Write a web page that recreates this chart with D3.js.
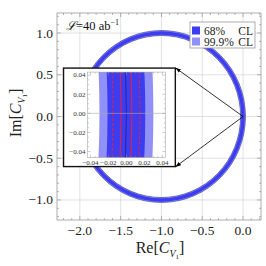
<html>
<head>
<script src="https://cdn.jsdelivr.net/npm/d3@7"></script>
<style>
  body { margin: 0; background: #fff; }
  svg text { font-family: "Liberation Serif", "DejaVu Serif", serif; }
</style>
</head>
<body>
<script>
// circle |1 + C| = 1  ->  centre (-1, 0), radius 1
var center = [-1, 0];
var radius = 1;
var bandLabels = ["68%", "99.9%"];
var bandHalfWidth = [0.021, 0.030];
var bandColors = ["#3c3cf0", "#9090f6"];
var redSolid = [-0.006, 0.006];
var redDashed = [-0.015, 0.015];
var xTicks = [-2.0, -1.5, -1.0, -0.5, 0.0];
var yTicks = [-1.0, -0.5, 0.0, 0.5, 1.0];
var insetTicks = [-0.04, -0.02, 0.00, 0.02, 0.04];
// inset placement in main data coords
var insetBox = { x0: -2.2, x1: -0.83, y0: -0.6, y1: 0.58 };

var W = 266, H = 266;
var svg = d3.select("body").append("svg").attr("width", W).attr("height", H)
  .style("font-family", "Liberation Serif");

var x = d3.scaleLinear().domain([-2.28, 0.22]).range([57, 261]);
var y = d3.scaleLinear().domain([-1.24, 1.24]).range([220, 13]);

function fmt(v, d) {
  var s = Math.abs(v).toFixed(d);
  return (v < -1e-9 ? "\u2212" : "") + s;
}

function ell(xs, ys, r) {
  var cx = xs(center[0]), cy = ys(center[1]);
  var rx = Math.abs(xs(center[0] + r) - cx), ry = Math.abs(ys(center[1] + r) - cy);
  return "M" + (cx + rx) + "," + cy +
    "A" + rx + "," + ry + " 0 1 0 " + (cx - rx) + "," + cy +
    "A" + rx + "," + ry + " 0 1 0 " + (cx + rx) + "," + cy + "Z";
}

var defs = svg.append("defs");
defs.append("clipPath").attr("id", "mainclip").append("rect")
  .attr("x", 57).attr("y", 13).attr("width", 204).attr("height", 207);
defs.append("marker").attr("id", "arr").attr("viewBox", "0 0 10 10")
  .attr("refX", 9).attr("refY", 5).attr("markerWidth", 7).attr("markerHeight", 7)
  .attr("orient", "auto")
  .append("path").attr("d", "M0,1.5 L10,5 L0,8.5 Z").attr("fill", "#000");

// grid
var g = svg.append("g");
g.selectAll(".gx").data(xTicks).enter().append("line")
  .attr("x1", d => x(d)).attr("x2", d => x(d)).attr("y1", 13).attr("y2", 220)
  .attr("stroke", "#d4d4d4").attr("stroke-width", 0.7);
g.selectAll(".gy").data(yTicks).enter().append("line")
  .attr("y1", d => y(d)).attr("y2", d => y(d)).attr("x1", 57).attr("x2", 261)
  .attr("stroke", "#d4d4d4").attr("stroke-width", 0.7);

// ring
var ring = svg.append("g").attr("clip-path", "url(#mainclip)");
[1, 0].forEach(function (i) {
  ring.append("path")
    .attr("d", ell(x, y, radius + bandHalfWidth[i]) + ell(x, y, radius - bandHalfWidth[i]))
    .attr("fill-rule", "evenodd")
    .attr("fill", bandColors[i])
    .attr("stroke", i == 1 ? "#2a2a90" : "none").attr("stroke-width", 0.6);
});

// frame + ticks
svg.append("rect").attr("x", 57).attr("y", 13).attr("width", 204).attr("height", 207)
  .attr("fill", "none").attr("stroke", "#999").attr("stroke-width", 0.8);
var minorX = d3.range(-22, 3).map(d => d / 10);
var minorY = d3.range(-12, 13).map(d => d / 10);
function isMajor(v) { return Math.abs(v * 2 - Math.round(v * 2)) < 1e-6; }
var tk = svg.append("g").attr("stroke", "#888").attr("stroke-width", 0.6);
minorX.forEach(function (v) {
  var L = isMajor(v) ? 4 : 2;
  tk.append("line").attr("x1", x(v)).attr("x2", x(v)).attr("y1", 220).attr("y2", 220 - L);
  tk.append("line").attr("x1", x(v)).attr("x2", x(v)).attr("y1", 13).attr("y2", 13 + L);
});
minorY.forEach(function (v) {
  var L = isMajor(v) ? 4 : 2;
  tk.append("line").attr("y1", y(v)).attr("y2", y(v)).attr("x1", 57).attr("x2", 57 + L);
  tk.append("line").attr("y1", y(v)).attr("y2", y(v)).attr("x1", 261).attr("x2", 261 - L);
});

svg.selectAll(".xl").data(xTicks).enter().append("text")
  .attr("x", d => x(d)).attr("y", 235).attr("text-anchor", "middle")
  .attr("font-size", 13.5).attr("fill", "#222").text(d => fmt(d, 1));
svg.selectAll(".yl").data(yTicks).enter().append("text")
  .attr("x", 53).attr("y", d => y(d) + 4.5).attr("text-anchor", "end")
  .attr("font-size", 13.5).attr("fill", "#222").text(d => fmt(d, 1));

// axis labels
var xl = svg.append("text").attr("x", 160).attr("y", 253).attr("text-anchor", "middle")
  .attr("font-size", 16).attr("fill", "#222");
xl.append("tspan").text("Re[");
xl.append("tspan").attr("font-style", "italic").text("C");
xl.append("tspan").attr("font-style", "italic").attr("font-size", 10).attr("dy", 4).text("V");
xl.append("tspan").attr("font-size", 7).attr("dy", 2).text("1");
xl.append("tspan").attr("dy", -6).text("]");

var yl = svg.append("text").attr("transform", "translate(21,113) rotate(-90)")
  .attr("text-anchor", "middle").attr("font-size", 16).attr("fill", "#222");
yl.append("tspan").text("Im[");
yl.append("tspan").attr("font-style", "italic").text("C");
yl.append("tspan").attr("font-style", "italic").attr("font-size", 10).attr("dy", 4).text("V");
yl.append("tspan").attr("font-size", 7).attr("dy", 2).text("1");
yl.append("tspan").attr("dy", -6).text("]");

// luminosity label
var lum = svg.append("text").attr("x", 66).attr("y", 30).attr("font-size", 12.5).attr("fill", "#111");
lum.append("tspan").attr("font-style", "italic").text("\u2112");
lum.append("tspan").text("=40 ab");
lum.append("tspan").attr("font-size", 8).attr("dy", -5).text("\u22121");

// legend
var lg = svg.append("g");
lg.append("rect").attr("x", 190).attr("y", 22).attr("width", 65).attr("height", 26)
  .attr("fill", "#fff").attr("stroke", "#999").attr("stroke-width", 0.8);
bandLabels.forEach(function (lab, i) {
  var yy = 30.5 + i * 11;
  lg.append("rect").attr("x", 192).attr("y", yy - 4).attr("width", 8).attr("height", 8)
    .attr("fill", bandColors[i]);
  lg.append("text").attr("x", 204).attr("y", yy + 4).attr("font-size", 11.5).attr("fill", "#222").text(lab);
  lg.append("text").attr("x", 253).attr("y", yy + 4).attr("text-anchor", "end")
    .attr("font-size", 11.5).attr("fill", "#222").text("CL");
});

// inset
var bx0 = x(insetBox.x0), bx1 = x(insetBox.x1), by0 = y(insetBox.y1), by1 = y(insetBox.y0);
var ix = d3.scaleLinear().domain([-0.0433, 0.0433]).range([bx0 + 24, bx1 - 10]);
var iy = d3.scaleLinear().domain([-0.0463, 0.0432]).range([by1 - 9, by0 + 4]);

// arrows from origin
[by0, by1].forEach(function (yy) {
  svg.append("line").attr("x1", x(0)).attr("y1", y(0)).attr("x2", bx1 + 0.5).attr("y2", yy)
    .attr("stroke", "#000").attr("stroke-width", 0.8).attr("marker-end", "url(#arr)");
});

svg.append("rect").attr("x", bx0).attr("y", by0).attr("width", bx1 - bx0).attr("height", by1 - by0)
  .attr("fill", "#fff").attr("stroke", "#111").attr("stroke-width", 1.4);

defs.append("clipPath").attr("id", "insclip").append("rect")
  .attr("x", ix.range()[0]).attr("y", iy.range()[1])
  .attr("width", ix.range()[1] - ix.range()[0]).attr("height", iy.range()[0] - iy.range()[1]);

var ins = svg.append("g").attr("clip-path", "url(#insclip)");
[1, 0].forEach(function (i) {
  ins.append("path")
    .attr("d", ell(ix, iy, radius + bandHalfWidth[i]) + ell(ix, iy, radius - bandHalfWidth[i]))
    .attr("fill-rule", "evenodd").attr("fill", bandColors[i]);
});
redDashed.forEach(function (o) {
  ins.append("path").attr("d", ell(ix, iy, radius + o)).attr("fill", "none")
    .attr("stroke", "#e8203c").attr("stroke-width", 1.1).attr("stroke-dasharray", "3,2");
});
redSolid.forEach(function (o) {
  ins.append("path").attr("d", ell(ix, iy, radius + o)).attr("fill", "none")
    .attr("stroke", "#e8203c").attr("stroke-width", 1.1);
});
ins.append("path").attr("d", ell(ix, iy, radius)).attr("fill", "none")
  .attr("stroke", "#22228a").attr("stroke-width", 0.8);
ins.append("line").attr("x1", ix.range()[0]).attr("x2", ix.range()[1])
  .attr("y1", iy(0)).attr("y2", iy(0)).attr("stroke", "#aaa").attr("stroke-width", 0.6);

svg.append("rect").attr("x", ix.range()[0]).attr("y", iy.range()[1])
  .attr("width", ix.range()[1] - ix.range()[0]).attr("height", iy.range()[0] - iy.range()[1])
  .attr("fill", "none").attr("stroke", "#aaa").attr("stroke-width", 0.6);
var itk = svg.append("g").attr("stroke", "#999").attr("stroke-width", 0.5);
d3.range(-8, 9).map(d => d * 0.005).forEach(function (v) {
  var L = Math.abs(v * 50 - Math.round(v * 50)) < 1e-6 ? 3 : 1.5;
  itk.append("line").attr("x1", ix(v)).attr("x2", ix(v)).attr("y1", iy.range()[0]).attr("y2", iy.range()[0] - L);
  itk.append("line").attr("x1", ix(v)).attr("x2", ix(v)).attr("y1", iy.range()[1]).attr("y2", iy.range()[1] + L);
  itk.append("line").attr("y1", iy(v)).attr("y2", iy(v)).attr("x1", ix.range()[0]).attr("x2", ix.range()[0] + L);
  itk.append("line").attr("y1", iy(v)).attr("y2", iy(v)).attr("x1", ix.range()[1]).attr("x2", ix.range()[1] - L);
});
svg.selectAll(".ixl").data(insetTicks).enter().append("text")
  .attr("x", d => ix(d)).attr("y", iy.range()[0] + 7).attr("text-anchor", "middle")
  .attr("font-size", 7).attr("fill", "#333").text(d => fmt(d, 2));
svg.selectAll(".iyl").data(insetTicks).enter().append("text")
  .attr("x", ix.range()[0] - 2).attr("y", d => iy(d) + 2.3).attr("text-anchor", "end")
  .attr("font-size", 7).attr("fill", "#333").text(d => fmt(d, 2));
</script>
</body>
</html>
